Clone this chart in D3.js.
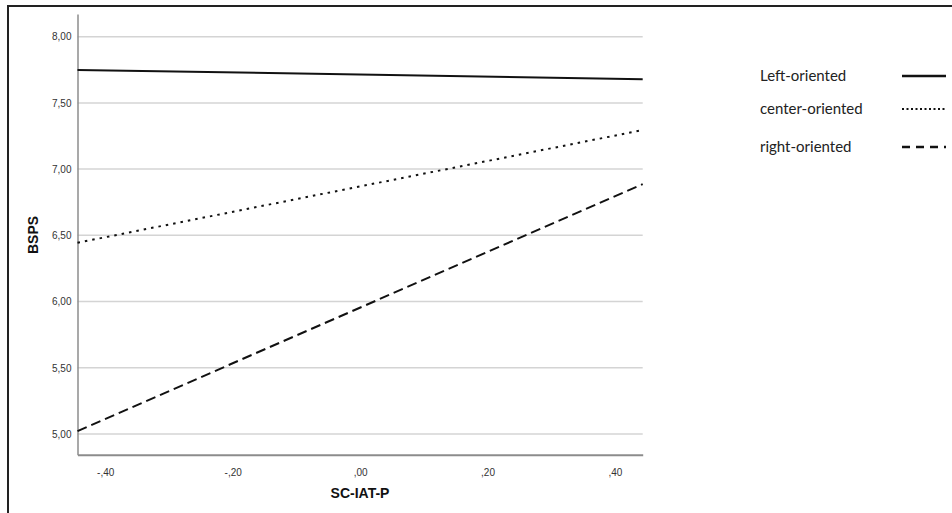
<!DOCTYPE html>
<html>
<head>
<meta charset="utf-8">
<script src="https://cdn.jsdelivr.net/npm/d3@7"></script>
<style>
  html, body { margin: 0; padding: 0; background: #fff; }
  svg { display: block; }
</style>
</head>
<body>
<svg id="chart" width="952" height="513"></svg>
<script>
// x range of the plot (SC-IAT-P) and the fitted line end points per group
const xDomain = [-0.4435, 0.4435]
const yDomain = [4.844, 8.171]
const xTicks = [-0.4, -0.2, 0, 0.2, 0.4]
const xTickLabels = ['-,40', '-,20', ',00', ',20', ',40']
const yTicks = [5, 5.5, 6, 6.5, 7, 7.5, 8]
const yTickLabels = ['5,00', '5,50', '6,00', '6,50', '7,00', '7,50', '8,00']

const groups = ['Left-oriented', 'center-oriented', 'right-oriented']
const leftValues = [7.749, 7.678]
const centerValues = [6.444, 7.295]
const rightValues = [5.022, 6.887]
const seriesValues = [leftValues, centerValues, rightValues]

const dashes = [null, '2.5,5', '10,5']
const legendDashes = [null, '2,2.5', '8,6']
const legendRows = [76, 109, 147]

const svg = d3.select('#chart')
const font = 'Arial, "Liberation Sans", sans-serif'

// outer frame (right and bottom edges fall outside the picture)
svg.append('rect')
  .attr('x', 8).attr('y', 6)
  .attr('width', 960).attr('height', 520)
  .attr('fill', 'none')
  .attr('stroke', '#222')
  .attr('stroke-width', 2)

const x = d3.scaleLinear().domain(xDomain).range([77.5, 642.7])
const y = d3.scaleLinear().domain(yDomain).range([454.7, 14])

// horizontal gridlines
svg.append('g')
  .selectAll('line')
  .data(yTicks)
  .join('line')
  .attr('x1', x.range()[0]).attr('x2', x.range()[1])
  .attr('y1', d => y(d)).attr('y2', d => y(d))
  .attr('stroke', '#d4d4d4')
  .attr('stroke-width', 1.5)

// y axis
const yAxis = svg.append('g')
  .attr('transform', `translate(${x.range()[0]},0)`)
  .call(d3.axisLeft(y).tickValues(yTicks).tickSize(0).tickPadding(6)
    .tickFormat((d, i) => yTickLabels[i]))
yAxis.select('.domain').attr('stroke', '#8c8c8c').attr('stroke-width', 1.5)
yAxis.selectAll('text').attr('font-family', font).attr('font-size', 10).attr('fill', '#333')

// x axis
const xAxis = svg.append('g')
  .attr('transform', `translate(0,${y.range()[0]})`)
  .call(d3.axisBottom(x).tickValues(xTicks).tickSize(0).tickPadding(14)
    .tickFormat((d, i) => xTickLabels[i]))
xAxis.select('.domain').attr('stroke', '#8c8c8c').attr('stroke-width', 2)
xAxis.selectAll('text').attr('font-family', font).attr('font-size', 10).attr('fill', '#333')

// axis titles
svg.append('text')
  .attr('x', 360).attr('y', 498)
  .attr('text-anchor', 'middle')
  .attr('font-family', font).attr('font-size', 14).attr('font-weight', 'bold')
  .attr('fill', '#111')
  .text('SC-IAT-P')

svg.append('text')
  .attr('transform', 'translate(38,235) rotate(-90)')
  .attr('text-anchor', 'middle')
  .attr('font-family', font).attr('font-size', 14).attr('font-weight', 'bold')
  .attr('fill', '#111')
  .text('BSPS')

// group lines
const line = d3.line()
  .x((d, i) => x(xDomain[i]))
  .y(d => y(d))

svg.append('g')
  .selectAll('path')
  .data(seriesValues)
  .join('path')
  .attr('d', d => line(d))
  .attr('fill', 'none')
  .attr('stroke', '#111')
  .attr('stroke-width', 2)
  .attr('stroke-dasharray', (d, i) => dashes[i])

// legend
const legend = svg.append('g')
  .selectAll('g')
  .data(groups)
  .join('g')
  .attr('transform', (d, i) => `translate(760,${legendRows[i]})`)

legend.append('text')
  .attr('dy', '0.35em')
  .attr('font-family', 'Lato, "Open Sans", sans-serif')
  .attr('font-size', 15)
  .attr('fill', '#222')
  .text(d => d)

legend.append('line')
  .attr('x1', 142).attr('x2', 186)
  .attr('y1', 0).attr('y2', 0)
  .attr('stroke', '#111')
  .attr('stroke-width', (d, i) => i === 1 ? 2 : 2.5)
  .attr('stroke-dasharray', (d, i) => legendDashes[i])
</script>
</body>
</html>
